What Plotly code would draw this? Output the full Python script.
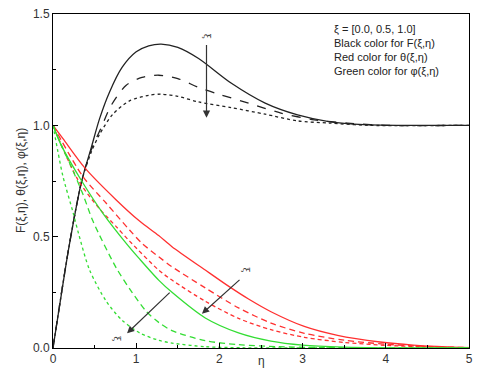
import plotly.graph_objects as go

# ---- data ----
eta_F0 = [0, 0.1, 0.19, 0.345, 0.46, 0.56, 0.68, 0.83, 1.0, 1.15, 1.3, 1.5, 1.75, 2.14, 2.55, 2.94, 3.33, 3.74, 4.2, 5]
F0 = [0, 0.24, 0.45, 0.75, 0.90, 1.03, 1.15, 1.26, 1.33, 1.357, 1.365, 1.35, 1.30, 1.19, 1.10, 1.047, 1.016, 1.003, 1.0, 1.0]
eta_F5 = [0, 0.19, 0.345, 0.46, 0.58, 0.70, 0.88, 1.07, 1.27, 1.5, 1.75, 1.99, 2.35, 2.74, 3.14, 3.54, 4.0, 5]
F5 = [0, 0.45, 0.75, 0.89, 0.99, 1.09, 1.18, 1.215, 1.225, 1.21, 1.17, 1.14, 1.10, 1.055, 1.025, 1.01, 1.0, 1.0]
eta_F1 = [0, 0.19, 0.345, 0.46, 0.56, 0.72, 0.92, 1.15, 1.3, 1.5, 1.75, 2.14, 2.55, 2.94, 3.33, 3.8, 5]
F1 = [0, 0.45, 0.75, 0.88, 0.96, 1.05, 1.11, 1.135, 1.14, 1.13, 1.105, 1.08, 1.05, 1.02, 1.01, 1.0, 1.0]

eta_T0 = [0, 0.12, 0.38, 0.76, 1.04, 1.27, 1.43, 1.83, 2.1, 2.35, 2.62, 3.02, 3.42, 3.93, 4.33, 4.73, 5]
T0 = [1, 0.94, 0.81, 0.665, 0.57, 0.505, 0.455, 0.35, 0.28, 0.22, 0.163, 0.097, 0.057, 0.027, 0.013, 0.005, 0.002]
eta_T5 = [0, 0.36, 0.64, 0.92, 1.07, 1.27, 1.43, 1.83, 2.23, 2.62, 3.02, 3.5, 4.0, 4.5, 5]
T5 = [1, 0.77, 0.65, 0.53, 0.47, 0.41, 0.365, 0.27, 0.18, 0.112, 0.066, 0.035, 0.017, 0.007, 0.002]
eta_T1 = [0, 0.3, 0.56, 0.76, 0.92, 1.27, 1.43, 1.83, 2.23, 2.62, 3.02, 3.5, 4.0, 4.5, 5]
T1 = [1, 0.755, 0.625, 0.545, 0.48, 0.35, 0.305, 0.21, 0.133, 0.082, 0.048, 0.025, 0.012, 0.005, 0.001]

eta_P0 = [0, 0.1, 0.345, 0.6, 0.88, 1.04, 1.27, 1.43, 1.83, 2.23, 2.62, 3.0, 3.5, 4.0, 5]
P0 = [1, 0.91, 0.75, 0.605, 0.47, 0.40, 0.305, 0.25, 0.135, 0.068, 0.031, 0.013, 0.004, 0.001, 0]
eta_P5 = [0, 0.1, 0.2, 0.36, 0.48, 0.76, 0.95, 1.12, 1.27, 1.43, 1.83, 2.23, 2.7, 3.2, 4.0, 5]
P5 = [1, 0.91, 0.83, 0.69, 0.57, 0.36, 0.25, 0.165, 0.115, 0.078, 0.033, 0.015, 0.006, 0.002, 0, 0]
eta_P1 = [0, 0.06, 0.12, 0.24, 0.31, 0.44, 0.64, 0.83, 1.05, 1.27, 1.43, 1.83, 2.3, 3.0, 5]
P1 = [1, 0.88, 0.77, 0.61, 0.51, 0.35, 0.21, 0.125, 0.066, 0.035, 0.022, 0.006, 0.001, 0, 0]

legend_lines = ["ξ = [0.0, 0.5, 1.0]", "Black color for F(ξ,η)",
                "Red color for θ(ξ,η)", "Green color for φ(ξ,η)"]

BLACK = "#222222"
RED = "#ff3030"
GREEN = "#33dd33"

series = [
    (eta_F0, F0, BLACK, "solid"), (eta_F5, F5, BLACK, "dash"), (eta_F1, F1, BLACK, "dot"),
    (eta_T0, T0, RED, "solid"), (eta_T5, T5, RED, "6px,4px"), (eta_T1, T1, RED, "4px,3px"),
    (eta_P0, P0, GREEN, "solid"), (eta_P5, P5, GREEN, "6px,4px"), (eta_P1, P1, GREEN, "dot"),
]

fig = go.Figure()
for x, y, c, d in series:
    fig.add_trace(go.Scatter(x=x, y=y, mode="lines",
                             line=dict(color=c, dash=d, width=1.3, shape="spline", smoothing=0.8),
                             showlegend=False, cliponaxis=True))

FAM = "Liberation Sans, Arial, sans-serif"
font = dict(family=FAM, size=11, color="#222")

axis_common = dict(showline=True, linecolor="black", linewidth=1, mirror=True,
                   ticks="inside", ticklen=5, tickcolor="black", showgrid=False,
                   zeroline=False, ticklabeloverflow="allow",
                   tickfont=dict(family=FAM, size=12, color="#333"))

fig.update_xaxes(range=[0, 5], tick0=0, dtick=1,
                 minor=dict(ticks="inside", ticklen=3, dtick=0.5, tickcolor="black"),
                 **axis_common)
fig.update_yaxes(range=[0, 1.5], tick0=0, dtick=0.5, tickformat=".1f",
                 minor=dict(ticks="inside", ticklen=3, dtick=0.25, tickcolor="black"),
                 **axis_common)

anns = []
anns.append(dict(text="F(ξ,η), θ(ξ,η), φ(ξ,η)", xref="paper", yref="paper", x=0, y=0.5,
                 xshift=-41, textangle=-90, showarrow=False,
                 font=dict(family=FAM, size=12, color="#333")))
anns.append(dict(text="η", xref="paper", yref="paper", x=0.5, y=0, yshift=-22,
                 showarrow=False, font=dict(family=FAM, size=12, color="#333")))
for i, t in enumerate(legend_lines):
    anns.append(dict(text=t, xref="paper", yref="paper", x=0.67, y=1, xanchor="left",
                     yanchor="middle", yshift=-15 - 14 * i, showarrow=False, font=font))
arrows = [((1.845, 1.368), (1.845, 1.034), (1.845, 1.40)),
          ((2.26, 0.312), (1.79, 0.154), (2.32, 0.352)),
          ((1.42, 0.255), (0.89, 0.066), (0.77, 0.044))]
for (tx, ty), (hx, hy), (lx, ly) in arrows:
    anns.append(dict(x=hx, y=hy, ax=tx, ay=ty, xref="x", yref="y", axref="x", ayref="y",
                     showarrow=True, arrowhead=2, arrowsize=1.2, arrowwidth=1.2,
                     arrowcolor="#333", text=""))
    anns.append(dict(x=lx, y=ly, xref="x", yref="y", text="ξ", showarrow=False,
                     textangle=90, font=dict(family="DejaVu Serif", size=9, color="#333")))

fig.update_layout(width=480, height=378, margin=dict(l=53, r=7, t=7, b=30),
                  plot_bgcolor="white", paper_bgcolor="white", annotations=anns,
                  font=font)

fig.write_html("out.html", config={"displayModeBar": False},
               post_script="document.body.style.margin='0';document.body.style.overflow='hidden';")
